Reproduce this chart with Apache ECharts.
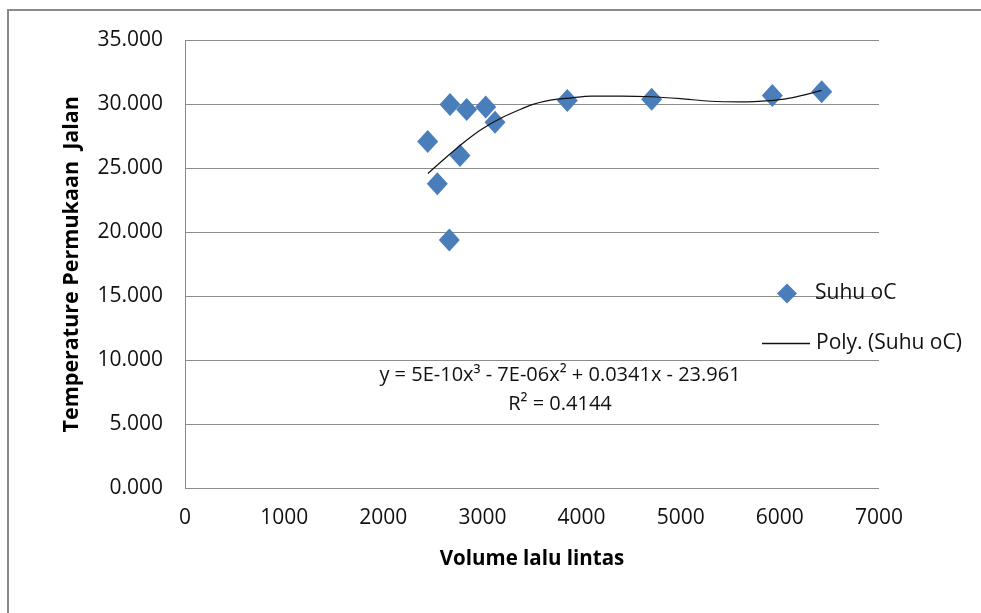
<!DOCTYPE html>
<html>
<head>
<meta charset="utf-8">
<script src="https://cdn.jsdelivr.net/npm/echarts@6/dist/echarts.min.js"></script>
<style>
html,body{margin:0;padding:0;background:#fff;}
#chart{width:981px;height:613px;}
</style>
</head>
<body>
<div id="chart"></div>
<script>
// Observed points (Volume lalu lintas, Suhu oC)
const volume = [2448, 2545, 2666, 2673, 2774, 2841, 3033, 3127, 3856, 4707, 5924, 6422];
const suhu   = [27.1, 23.8, 19.4, 30.0, 26.0, 29.6, 29.8, 28.6, 30.3, 30.4, 30.7, 31.0];

// Trend line
const trendX = [2450, 2670, 2840, 3000, 3180, 3350, 3510, 3700, 3880, 4100, 4400, 4700, 5000, 5300, 5600, 5900, 6100, 6250, 6420];
const trendY = [24.6, 26.1, 27.2, 28.1, 28.9, 29.5, 30.0, 30.35, 30.5, 30.65, 30.65, 30.6, 30.45, 30.25, 30.2, 30.3, 30.5, 30.75, 31.1];

const xTicks = [0, 1000, 2000, 3000, 4000, 5000, 6000, 7000];
const yTicks = [0, 5, 10, 15, 20, 25, 30, 35];

const seriesName = 'Suhu oC';
const trendName = 'Poly. (Suhu oC)';
const xTitle = 'Volume lalu lintas';
const yTitle = 'Temperature Permukaan  Jalan';
const eqText = 'y = 5E-10x\u00B3 - 7E-06x\u00B2 + 0.0341x - 23.961';
const r2Text = 'R\u00B2 = 0.4144';

const FONT = '"Open Sans", "Noto Sans", sans-serif';
const chart = echarts.init(document.getElementById('chart'), null, {renderer: 'canvas'});

chart.setOption({
  backgroundColor: '#ffffff',
  animation: false,
  textStyle: {fontFamily: FONT, color: '#000'},
  grid: {left: 185, right: 102, top: 40.5, bottom: 125, containLabel: false},
  xAxis: {
    type: 'value',
    min: xTicks[0], max: xTicks[xTicks.length - 1], interval: 1000,
    name: xTitle, nameLocation: 'middle', nameGap: 61,
    nameTextStyle: {fontFamily: FONT, fontSize: 20.5, fontWeight: 'bold', color: '#000'},
    axisLine: {show: false},
    axisTick: {show: false},
    splitLine: {show: false},
    axisLabel: {fontFamily: FONT, fontSize: 21, color: '#111', margin: 20,
      formatter: v => String(v)}
  },
  yAxis: {
    type: 'value',
    min: yTicks[0], max: yTicks[yTicks.length - 1], interval: 5,
    name: yTitle, nameLocation: 'middle', nameGap: 102, nameRotate: 90,
    nameTextStyle: {fontFamily: FONT, fontSize: 21.5, fontWeight: 'bold', color: '#000'},
    axisLine: {show: true, lineStyle: {color: '#8c8c8c', width: 1}},
    axisTick: {show: false},
    splitLine: {show: true, lineStyle: {color: '#8c8c8c', width: 1}},
    axisLabel: {fontFamily: FONT, fontSize: 21, color: '#111', margin: 22,
      formatter: v => v.toFixed(3)}
  },
  legend: [
    {
      data: [{name: seriesName, icon: 'diamond'}],
      left: 777, top: 283, padding: 0, itemWidth: 20, itemHeight: 20,
      textStyle: {fontFamily: FONT, fontSize: 21, color: '#111', padding: [0,0,0,13]}
    },
    {
      data: [{name: trendName, icon: 'rect'}],
      left: 762, top: 333, padding: 0, itemWidth: 48, itemHeight: 1.5,
      textStyle: {fontFamily: FONT, fontSize: 21, color: '#111', padding: [0,0,0,1]}
    }
  ],
  series: [
    {
      name: trendName,
      type: 'line',
      data: trendX.map((x, i) => [x, trendY[i]]),
      smooth: 0.3,
      symbol: 'none',
      lineStyle: {color: '#111', width: 1.2},
      itemStyle: {color: '#111'},
      z: 3
    },
    {
      name: seriesName,
      type: 'scatter',
      data: volume.map((x, i) => [x, suhu[i]]),
      symbol: 'diamond',
      symbolSize: [21, 23],
      itemStyle: {color: '#4a7ebb', opacity: 1},
      z: 2
    }
  ],
  graphic: [
    {
      type: 'rect', silent: true, z: 100,
      shape: {x: 8, y: 10, width: 1100, height: 800},
      style: {fill: null, stroke: '#8a8a8a', lineWidth: 2}
    },
    {
      type: 'text', silent: true, z: 50,
      x: 560, y: 375,
      style: {text: eqText, fontFamily: FONT, fontSize: 20, fill: '#111', align: 'center', verticalAlign: 'middle'}
    },
    {
      type: 'text', silent: true, z: 50,
      x: 560, y: 404,
      style: {text: r2Text, fontFamily: FONT, fontSize: 20, fill: '#111', align: 'center', verticalAlign: 'middle'}
    }
  ]
});
</script>
</body>
</html>
